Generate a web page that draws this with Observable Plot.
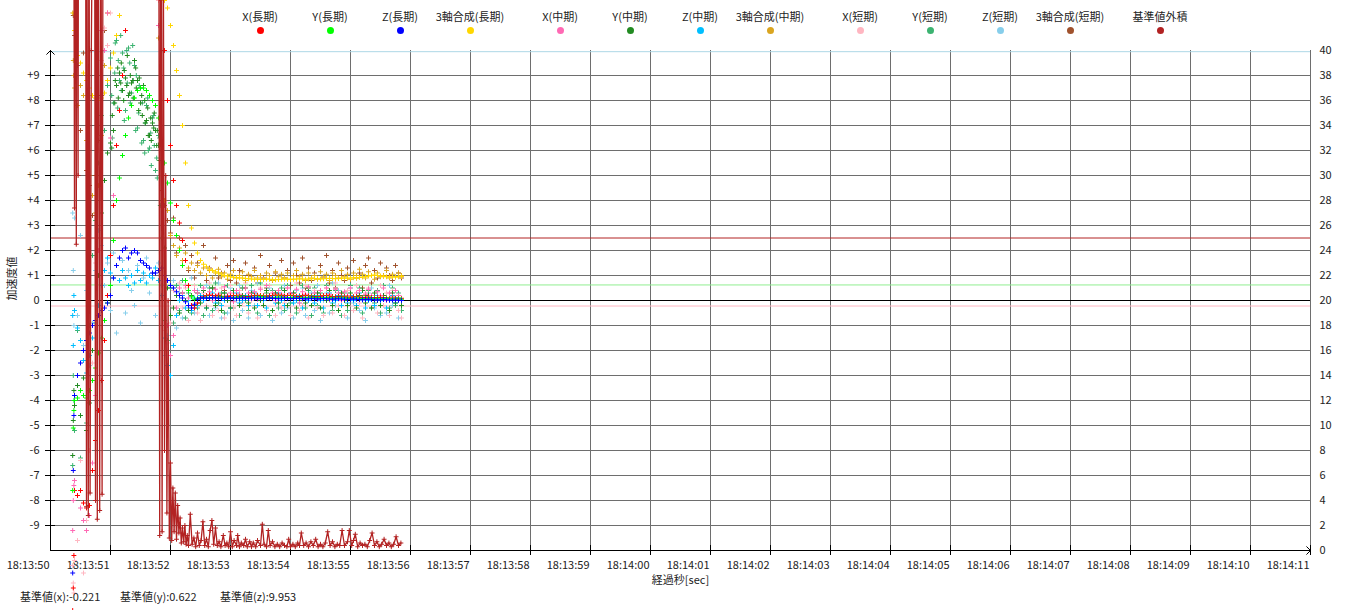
<!DOCTYPE html>
<html>
<head>
<meta charset="utf-8">
<script src="https://cdn.jsdelivr.net/npm/d3@7"></script>
<script src="https://cdn.jsdelivr.net/npm/@observablehq/plot@0.6"></script>
<style>
  body { margin: 0; background: #fff; font-family: "Noto Sans CJK JP", "Noto Sans", sans-serif; }
  #wrap { position: relative; width: 1350px; height: 610px; overflow: hidden; }
  #legend { position: absolute; left: 225px; top: 9px; display: flex; pointer-events: none; }
  .item { width: 70px; font-size: 11px; color: #222; }
  .item .lbl { display: flex; justify-content: center; white-space: nowrap; line-height: 14px; height: 14px; }
  .item .dot { width: 7px; height: 7px; border-radius: 50%; margin: 4px auto 0; }
  .gap { width: 20px; }
  #footer { position: absolute; left: 20px; top: 589px; font-size: 11px; line-height: 14px; color: #222; white-space: nowrap; }
  #footer span { display: inline-block; width: 100px; }
  #warn { position: absolute; left: 600px; top: 400px; color: red; font-size: 12px; }
</style>
</head>
<body>
<div id="wrap"></div>
<script>
// ---------------- data ----------------
// seconds after 18:13:50
const timeSec = [0.37,0.38,0.39,
  0.40,0.45,0.50,0.55,0.60,0.65,0.70,0.75,0.80,0.85,
  0.90,0.95,1.00,1.05,1.10,1.15,1.20,1.25,1.30,1.35,
  1.40,1.45,1.50,1.55,1.60,1.65,1.70,1.75,1.80,1.85,
  1.90,1.95,2.00,2.05,2.10,2.15,2.20,2.25,2.30,2.35,
  2.40,2.45,2.50,2.55,2.60,2.65,2.70,2.75,2.80,2.85,
  2.90,2.95,3.00,3.05,3.10,3.15,3.20,3.25,3.30,3.35,
  3.40,3.45,3.50,3.55,3.60,3.65,3.70,3.75,3.80,3.85,
  3.90,3.95,4.00,4.05,4.10,4.15,4.20,4.25,4.30,4.35,
  4.40,4.45,4.50,4.55,4.60,4.65,4.70,4.75,4.80,4.85,
  4.90,4.95,5.00,5.05,5.10,5.15,5.20,5.25,5.30,5.35,
  5.40,5.45,5.50,5.55,5.60,5.65,5.70,5.75,5.80,5.85];

const xLong = [-12.4,-11.5,-10.2,
  -7.6,-7.8,-7.6,-8.1,-8.3,-8.2,-6.8,-5.6,-4.4,-3.2,
  -1.6,0.2,1.8,3.8,6.2,7.6,9.0,10.8,12.5,13.5,
  14,14.5,15,15,15,14.5,14,13.5,13,12,
  10.0,8.0,6.2,4.8,3.8,3.1,2.4,1.6,0.6,-0.2,
  -0.3,-0.1,0.1,0.15,0.2,0.22,0.2,0.18,0.2,0.17,
  0.15,0.16,0.18,0.2,0.19,0.17,0.15,0.14,0.16,0.18,
  0.2,0.21,0.2,0.18,0.17,0.19,0.2,0.22,0.21,0.19,
  0.18,0.2,0.21,0.19,0.17,0.16,0.18,0.2,0.19,0.18,
  0.16,0.15,0.17,0.19,0.2,0.18,0.16,0.15,0.16,0.17,
  0.15,0.14,0.13,0.15,0.16,0.14,0.12,0.13,0.14,0.12,
  0.11,0.12,0.13,0.11,0.1,0.09,0.1,0.09,0.08,0.07];

const yLong = [-7.6,-5.1,-4.4,
  -4.0,-3.9,-3.6,-3.8,-3.9,-3.6,-3.2,-2.7,-2.1,-1.5,
  -0.8,-0.1,0.6,2.4,4.0,4.9,5.8,6.6,7.3,7.8,
  8.1,8.4,8.5,8.5,8.4,8.2,8.0,7.8,7.3,6.4,
  5.5,4.7,3.9,3.2,2.6,2.0,1.4,0.8,0.4,0.15,
  0.05,0.08,0.1,0.12,0.13,0.12,0.11,0.12,0.13,0.14,
  0.13,0.12,0.11,0.12,0.13,0.14,0.13,0.12,0.11,0.12,
  0.13,0.14,0.15,0.14,0.13,0.12,0.12,0.13,0.14,0.13,
  0.12,0.11,0.12,0.13,0.12,0.11,0.1,0.11,0.12,0.13,
  0.12,0.11,0.1,0.11,0.12,0.11,0.1,0.09,0.1,0.11,
  0.1,0.09,0.08,0.09,0.1,0.09,0.08,0.07,0.08,0.09,
  0.08,0.07,0.06,0.07,0.08,0.07,0.06,0.05,0.06,0.05];

const zLong = [-10.9,-6.8,-4.6,
  -3.8,-3.0,-2.5,-2.0,-1.6,-1.3,-1.0,-0.8,-0.6,-0.4,
  -0.3,-0.1,0.2,0.9,1.4,1.7,2.0,2.1,1.7,1.9,
  2.0,1.9,1.6,1.5,1.4,1.3,1.1,1.1,1.2,1.3,
  1.0,0.8,0.6,0.5,0.35,0.2,0.1,-0.05,-0.2,-0.3,
  -0.15,0.05,0.1,0.1,0.09,0.1,0.11,0.1,0.09,0.08,
  0.09,0.1,0.1,0.09,0.08,0.09,0.1,0.09,0.08,0.09,
  0.1,0.09,0.08,0.08,0.09,0.1,0.09,0.08,0.07,0.08,
  0.09,0.08,0.07,0.08,0.09,0.08,0.07,0.06,0.07,0.08,
  0.07,0.06,0.07,0.08,0.07,0.06,0.05,0.06,0.07,0.06,
  0.05,0.04,0.05,0.06,0.05,0.04,0.03,0.04,0.05,0.04,
  0.03,0.02,0.03,0.04,0.03,0.02,0.01,0.02,0.01,0.0];

const sumLong = [14,12.5,11.5,
  10.8,9.8,9.5,9.1,8.8,8.5,8.2,8.1,8.0,8.1,
  8.3,8.8,9.3,9.9,10.6,11.4,12.2,13,13.5,14,
  14.5,15,15,15,15,15,14.5,14,13.5,13,
  12.0,11.7,11.0,10.2,9.2,8.2,7.0,5.5,3.8,2.9,
  2.3,1.9,1.6,1.45,1.35,1.25,1.2,1.15,1.1,1.05,
  1.0,0.98,0.95,0.93,0.92,0.9,0.9,0.88,0.87,0.86,
  0.85,0.85,0.84,0.85,0.86,0.85,0.84,0.83,0.84,0.85,
  0.86,0.85,0.84,0.85,0.86,0.87,0.86,0.85,0.86,0.87,
  0.88,0.87,0.86,0.87,0.88,0.89,0.88,0.87,0.88,0.89,
  0.9,0.89,0.9,0.91,0.9,0.92,0.94,0.96,0.98,1.0,
  1.02,1.0,0.98,0.96,0.95,0.94,0.95,0.94,0.95,0.96];

const xMid = [-9.2,-8.0,-7.4,
  -7.2,-7.8,-8.3,-8.8,-9.2,-8.6,-6.5,-3.8,2.0,10.8,
  10.0,11.5,6.5,4.2,12.5,13,13.5,14,14,14,
  14,14,14,14,14,14,13.5,13,11,6.5,
  2.0,-1.0,-2.2,-1.4,-0.3,0.5,0.3,0.6,0.1,-0.2,
  0.4,0.3,0.1,0.5,0.2,0.35,0.0,0.45,0.25,0.15,
  0.55,0.2,0.3,-0.05,0.4,0.25,0.1,0.5,0.3,0.2,
  0.35,0.05,0.45,0.2,0.6,0.15,0.3,0.0,0.4,0.25,
  0.1,0.5,0.3,0.2,0.45,-0.1,0.35,0.25,0.55,0.15,
  0.3,0.05,0.4,0.2,0.5,0.25,0.1,0.45,0.3,0.0,
  0.35,0.2,0.5,0.15,0.3,0.4,0.05,0.25,0.45,0.2,
  0.1,0.35,0.2,0.5,0.0,0.3,0.15,0.4,0.2,0.1];

const yMid = [-6.2,-4.8,-3.6,
  -4.2,-3.4,-4.6,-3.1,-5.2,-4.1,-2.0,-0.8,1.0,3.5,
  4.8,5.9,6.3,6.8,8.6,9.1,8.4,8.9,8.2,8.7,
  9.6,8.8,7.9,8.6,7.2,6.6,7.1,6.8,6.2,4.0,
  2.1,0.5,-0.6,-0.3,0.2,-0.5,0.3,0.0,-0.4,0.2,
  -0.2,0.3,-0.1,0.4,-0.3,0.1,0.5,-0.2,0.2,-0.4,
  0.3,0.0,-0.3,0.4,0.1,-0.2,0.2,0.5,-0.1,0.3,
  -0.3,0.2,0.0,-0.2,0.4,0.1,-0.4,0.3,-0.1,0.2,
  0.4,-0.2,0.1,0.3,-0.3,0.0,0.2,-0.1,0.5,-0.2,
  0.1,0.3,-0.3,0.2,0.0,0.4,-0.2,0.1,-0.4,0.3,
  0.0,-0.2,0.3,0.1,-0.3,0.2,0.4,-0.1,0.2,-0.3,
  0.3,0.0,-0.2,0.2,0.1,-0.4,0.3,-0.1,0.1,-0.2];

const zMid = [-0.6,-1.8,0.2,
  -0.4,-1.1,-1.6,-2.4,-2.9,-2.2,-1.5,-0.9,-0.2,0.6,
  1.2,1.7,1.1,0.9,1.4,0.8,1.2,0.9,0.6,1.0,
  0.7,1.2,0.8,1.1,0.7,1.0,0.9,1.3,0.8,0.2,
  -1.5,-2.6,-3.0,-1.8,-0.6,0.0,0.2,-0.3,0.0,-0.4,
  0.1,-0.2,0.2,0.0,-0.3,0.1,0.3,-0.1,0.2,-0.2,
  0.0,0.2,-0.3,0.1,0.3,-0.1,0.0,0.2,-0.2,0.1,
  0.3,-0.2,0.1,0.0,-0.3,0.2,0.1,-0.1,0.3,0.0,
  -0.2,0.1,0.3,-0.1,0.0,0.2,-0.3,0.1,0.0,0.2,
  -0.1,0.2,0.0,-0.3,0.1,0.3,-0.1,0.0,0.2,-0.2,
  0.1,-0.1,0.2,0.0,-0.2,0.3,0.1,-0.3,0.0,0.1,
  -0.2,0.2,0.0,0.1,-0.3,0.0,0.2,-0.1,0.1,-0.2];

const sumMid = [11.5,9.6,9.0,
  8.5,7.8,8.6,8.2,6.4,5.0,4.2,3.5,4.6,6.6,
  9.4,11.5,13,13.5,14,14,14,14,14,14,
  14,14,14,14,14,14,13.5,13,10.5,8.0,
  4.0,3.6,2.6,2.2,1.8,2.1,1.6,1.9,1.3,1.5,
  1.2,1.4,1.1,1.3,1.0,1.2,0.9,1.1,1.25,0.95,
  1.1,0.85,1.05,1.2,0.9,1.0,1.15,0.8,1.05,0.95,
  1.2,0.9,1.0,0.85,1.1,1.0,0.8,1.15,0.95,1.05,
  0.9,1.1,0.85,1.0,1.2,0.95,1.05,0.8,1.1,0.9,
  1.0,0.85,1.15,0.95,1.05,0.8,1.1,1.0,0.9,1.2,
  0.95,1.05,0.85,1.1,1.0,1.25,1.05,0.9,1.15,1.0,
  0.85,1.1,0.95,1.0,1.2,0.9,1.05,0.95,1.1,1.0];

const xShort = [-10.6,-11.3,-11.7,
  -10.4,-9.6,-6.4,-10.9,-8.8,-6.0,-2.5,1.5,6.0,9.6,
  10.9,10.2,11.5,13,13,13,13,13,13,13,
  13,13,13,13,13,13,13,13,12.0,5.0,
  -1.2,-1.7,-0.9,0.4,-0.6,0.7,-0.3,0.5,-0.8,0.2,
  0.6,-0.5,-0.8,0.3,-0.2,0.7,-0.6,0.1,-0.4,0.5,
  -0.7,0.2,0.6,-0.3,-0.6,0.4,-0.1,0.7,-0.5,0.0,
  0.3,-0.7,0.5,-0.2,-0.4,0.6,0.1,-0.6,0.4,-0.3,
  -0.1,0.5,-0.6,0.3,0.7,-0.4,-0.2,0.6,-0.7,0.2,
  0.4,-0.3,0.1,-0.6,0.5,0.0,-0.5,0.7,-0.2,0.3,
  -0.6,0.4,0.2,-0.4,0.6,-0.1,-0.7,0.3,0.5,-0.3,
  0.1,-0.5,0.6,-0.2,0.3,-0.6,0.4,0.0,-0.4,-0.7];

const yShort = [-6.6,-3.0,-4.0,
  -5.2,-1.2,-6.3,-2.4,-4.9,-1.0,1.8,3.2,5.5,7.4,
  6.8,8.6,9.7,7.9,10.4,8.8,9.9,7.6,10.1,8.3,
  9.4,6.9,8.5,6.4,7.8,6.1,7.3,5.2,6.6,2.5,
  -0.8,-1.6,0.5,-0.9,0.6,-0.4,0.8,-0.7,0.3,-0.5,
  0.4,-0.3,0.6,-0.6,0.2,0.5,-0.4,0.7,-0.1,0.3,
  -0.5,0.6,0.1,-0.3,0.4,-0.6,0.5,0.0,-0.4,0.6,
  0.2,-0.5,0.7,-0.2,0.3,-0.6,0.4,0.1,-0.3,0.5,
  -0.4,0.6,-0.1,0.3,-0.5,0.2,0.6,-0.3,0.4,-0.6,
  0.5,-0.2,0.3,-0.5,0.6,0.0,-0.4,0.4,0.2,-0.6,
  0.3,-0.4,0.6,0.1,-0.2,0.5,-0.5,0.2,0.4,-0.3,
  -0.1,0.4,-0.5,0.6,0.0,-0.3,0.5,-0.2,0.3,-0.4];

const zShort = [3.5,1.2,-1.0,
  3.3,-0.6,2.6,-1.8,0.4,-2.6,-0.9,1.2,2.8,2.2,
  0.6,1.5,-0.4,1.9,-1.3,0.8,1.6,-0.5,1.2,0.4,
  -0.2,1.4,-0.9,0.9,1.7,0.3,1.1,-0.6,1.5,0.6,
  -2.2,-1.4,-0.6,0.8,-1.1,0.3,-0.7,0.6,-0.2,0.9,
  -0.5,0.4,-0.8,0.2,0.6,-0.6,0.1,-0.3,0.7,-0.7,
  0.3,-0.5,0.5,-0.8,0.0,0.6,-0.4,0.2,-0.7,0.4,
  -0.2,0.7,-0.6,0.1,-0.4,0.5,-0.8,0.3,0.0,-0.5,
  0.6,-0.3,0.2,-0.7,0.4,-0.1,0.5,-0.6,0.1,0.3,
  -0.4,0.6,-0.8,0.0,0.3,-0.5,0.7,-0.2,0.4,-0.6,
  0.2,-0.7,0.5,-0.1,0.6,-0.4,0.0,-0.8,0.3,0.5,
  -0.3,0.4,-0.6,0.2,-0.5,0.6,-0.2,0.1,-0.7,-0.4];

const sumShort = [13,11.4,9.0,
  10.6,9.4,6.8,9.9,5.2,4.6,3.4,5.0,6.4,8.2,
  10.8,12.5,13,13,13,13,13,13,13,13,
  13,13,13,13,13,13,13,13,11.0,4.4,
  3.8,3.2,2.7,3.3,1.9,2.5,1.6,2.2,1.2,1.8,
  0.9,1.5,0.6,2.2,0.8,1.3,0.5,1.7,0.9,1.1,
  0.4,1.4,0.8,1.6,0.7,1.2,0.5,1.5,1.0,0.6,
  1.3,0.7,1.8,0.9,0.5,1.4,0.8,1.1,0.4,1.6,
  0.9,1.2,0.6,1.5,1.0,0.7,1.7,0.5,1.3,0.8,
  1.1,0.6,1.4,0.9,1.8,0.7,1.2,0.5,1.5,1.0,
  0.8,1.3,0.6,1.6,0.9,1.1,0.5,1.4,1.7,0.7,
  1.2,0.9,1.5,0.6,1.3,1.0,0.8,1.4,1.1,0.9];

// extra samples inside the dense Y(中期)/Y(短期) cloud, 18:13:51.0 – 18:13:51.85
const cloudSec = [1.02,1.03,1.07,1.08,1.12,1.13,1.17,1.18,1.22,1.23,1.27,1.28,1.32,1.33,1.37,1.38,1.42,
  1.43,1.47,1.48,1.52,1.53,1.57,1.58,1.62,1.63,1.67,1.68,1.72,1.73,1.77,1.78,1.82,1.83];
const yMidCloud = [6.1,7.4,7.9,8.8,9.3,8.1,8.7,9.5,8.0,9.2,8.6,9.8,8.3,9.0,8.8,8.1,9.3,
  8.5,7.6,8.9,8.2,7.4,8.0,7.1,7.7,6.6,7.3,6.4,6.9,7.5,6.2,6.8,5.6,6.3];
const yShortCloud = [8.2,6.5,9.1,10.3,7.7,9.6,10.6,8.4,9.3,7.2,10.0,8.7,9.5,7.9,10.2,8.8,6.8,
  9.0,7.5,8.6,6.3,7.9,5.9,7.1,8.1,6.0,6.7,5.4,7.4,6.2,5.7,4.9,6.5,3.8];

// 基準値外積: [seconds after 18:13:50, value on right axis (0–40)]
const outerProduct = [[0.38,70],[0.40,27.4],[0.41,70],[0.43,24.5],[0.44,70],[0.46,30],[0.47,70],
  [0.58,70],[0.60,3.5],[0.61,45],[0.63,2.8],[0.64,60],[0.66,4.6],[0.68,40],[0.73,70],[0.75,4.0],
  [0.76,70],[0.78,2.5],[0.79,70],[0.82,3.2],[0.84,60],[0.86,4.5],[0.88,70],[1.80,70],[1.82,1.2],
  [1.84,70],[1.86,1.5],[1.88,50],[1.90,8.0],[1.92,30],[1.94,3.0],[1.96,20],[1.98,1.0],[2.00,7.0],
  [2.02,0.8],[2.04,5.0],[2.06,1.5],[2.08,4.6],[2.10,0.9],[2.12,3.6],[2.14,1.4],[2.16,2.6],[2.18,0.6],
  [2.20,1.8],[2.22,0.7],[2.24,2.0],[2.26,0.5],[2.28,1.2],[2.30,0.4],[2.33,2.9],[2.36,0.5],[2.39,1.0],
  [2.42,0.3],[2.45,1.4],[2.48,0.4],[2.51,0.8],[2.54,2.3],[2.57,0.4],[2.60,0.9],[2.63,0.3],[2.66,1.6],
  [2.69,2.4],[2.72,0.5],[2.75,1.8],[2.78,0.4],[2.81,0.7],[2.84,0.3],[2.88,1.2],[2.91,0.4],[2.94,0.6],
  [2.97,0.3],[3.00,1.5],[3.03,0.3],[3.06,0.8],[3.10,0.4],[3.12,1.2],[3.15,0.3],[3.18,0.6],[3.22,0.4],
  [3.25,0.9],[3.28,0.3],[3.32,0.7],[3.35,0.3],[3.38,0.6],[3.42,0.3],[3.45,0.8],[3.50,0.4],[3.53,2.1],
  [3.56,0.5],[3.60,0.3],[3.63,1.6],[3.66,0.4],[3.70,0.7],[3.74,0.3],[3.78,0.5],[3.82,0.3],[3.86,0.6],
  [3.90,0.4],[3.94,0.3],[3.97,0.9],[4.00,0.3],[4.04,0.5],[4.08,0.3],[4.12,0.6],[4.15,0.4],[4.18,1.4],
  [4.22,0.4],[4.26,0.6],[4.30,0.3],[4.34,0.7],[4.38,0.4],[4.42,0.9],[4.46,0.3],[4.50,0.5],[4.54,0.3],
  [4.58,0.6],[4.62,1.5],[4.66,0.4],[4.70,0.7],[4.74,0.3],[4.78,0.5],[4.82,0.4],[4.86,1.6],[4.90,0.4],
  [4.95,0.7],[4.98,1.6],[5.02,0.4],[5.05,0.8],[5.08,1.3],[5.12,0.3],[5.16,0.6],[5.20,0.4],[5.24,0.5],
  [5.28,0.3],[5.32,0.8],[5.36,1.4],[5.40,0.4],[5.44,0.7],[5.48,0.3],[5.52,0.5],[5.56,0.9],[5.60,0.4],
  [5.64,0.6],[5.68,0.3],[5.72,0.5],[5.76,1.1],[5.80,0.4],[5.84,0.6]];

const seriesNames = ["X(長期)","Y(長期)","Z(長期)","3軸合成(長期)","X(中期)","Y(中期)","Z(中期)","3軸合成(中期)","X(短期)","Y(短期)","Z(短期)","3軸合成(短期)","基準値外積"];
const seriesColors = ["#ff0000","#00ff00","#0000ff","#ffd700","#ff69b4","#228b22","#00bfff","#daa520","#ffb6c1","#3cb371","#87ceeb","#a0522d","#b22222"];
const seriesValues = [xLong, yLong, zLong, sumLong, xMid, yMid, zMid, sumMid, xShort, yShort, zShort, sumShort];

const baseNames = ["基準値(x)","基準値(y)","基準値(z)"];
const baseValues = [-0.221, 0.622, 9.953];
const baseColors = ["#ffb6c1","#90ee90","#add8e6"];
const outerThreshold = 25; // right-axis units

const xTickValues = [0,1,2,3,4,5,6,7,8,9,10,11,12,13,14,15,16,17,18,19,20,21];
const xTickLabels = ["18:13:50","18:13:51","18:13:52","18:13:53","18:13:54","18:13:55","18:13:56","18:13:57","18:13:58","18:13:59","18:14:00","18:14:01","18:14:02","18:14:03","18:14:04","18:14:05","18:14:06","18:14:07","18:14:08","18:14:09","18:14:10","18:14:11"];
const yTickValues = [9,8,7,6,5,4,3,2,1,0,-1,-2,-3,-4,-5,-6,-7,-8,-9];
const yTickLabels = ["+9","+8","+7","+6","+5","+4","+3","+2","+1","0","-1","-2","-3","-4","-5","-6","-7","-8","-9"];
const rightTickValues = [0,2,4,6,8,10,12,14,16,18,20,22,24,26,28,30,32,34,36,38,40];
const xLabel = "経過秒[sec]";
const yLabel = "加速度値";

// ---------------- chart ----------------
const toLeft = r => (r - 20) / 2; // right axis (0..40) -> left axis (-10..+10)
const grid = "#6e6e6e";
const font = '"Noto Sans CJK JP", "Noto Sans", sans-serif';

const marks = [
  Plot.ruleY(yTickValues.filter(v => v !== 0), {stroke: grid}),
  Plot.ruleX(xTickValues.slice(1), {stroke: grid}),
  Plot.ruleY([baseValues[0]], {stroke: baseColors[0]}),
  Plot.ruleY([baseValues[1]], {stroke: baseColors[1]}),
  Plot.ruleY([baseValues[2]], {stroke: baseColors[2]}),
  Plot.ruleY([toLeft(outerThreshold)], {stroke: "#b22222"}),
  Plot.ruleY([0], {stroke: "black"}),
  // axes
  Plot.arrow([0], {x1: d => d, x2: d => d, y1: () => -10, y2: () => 10, stroke: "black", strokeWidth: 1, headLength: 8, headAngle: 90}),
  Plot.arrow([-10], {x1: () => 0, x2: () => 21, y1: d => d, y2: d => d, stroke: "black", strokeWidth: 1, headLength: 8, headAngle: 90}),
  Plot.ruleY(yTickValues, {x1: () => 0, x2: () => 0, insetLeft: -5, insetRight: -5, stroke: "black"}),
  Plot.ruleX(xTickValues.slice(1), {y1: () => -10, y2: () => -10, insetTop: -5, insetBottom: -5, stroke: "black"}),
  Plot.text(yTickValues, {x: () => 0, y: d => d, text: (d, i) => yTickLabels[i], textAnchor: "end", dx: -11}),
  Plot.text(rightTickValues, {x: () => 21, y: d => toLeft(d), text: d => String(d), textAnchor: "start", dx: 9}),
  Plot.text(xTickValues, {x: d => d, y: () => -10, text: (d, i) => xTickLabels[i], textAnchor: "end", dx: -1, dy: 15}),
  Plot.text([xLabel], {frameAnchor: "bottom", dy: 33}),
  Plot.text([yLabel], {frameAnchor: "left", dx: -38, rotate: -90})
];

const plus = (data, x, y, color) => Plot.dot(data, {x, y, symbol: "plus", r: 1.7, stroke: color, strokeWidth: 1});

// draw short-term first, long-term last
const order = [11, 10, 9, 8, 7, 6, 5, 4, 0, 1, 2, 3];
for (const k of order) {
  marks.push(plus(seriesValues[k], (d, i) => timeSec[i], d => d, seriesColors[k]));
  if (k === 9) marks.push(plus(yShortCloud, (d, i) => cloudSec[i], d => d, seriesColors[9]));
  if (k === 5) marks.push(plus(yMidCloud, (d, i) => cloudSec[i], d => d, seriesColors[5]));
}
marks.push(Plot.line(outerProduct, {x: d => d[0], y: d => toLeft(d[1]), stroke: seriesColors[12], strokeWidth: 1.3}));
marks.push(plus(outerProduct, d => d[0], d => toLeft(d[1]), seriesColors[12]));

const chart = Plot.plot({
  width: 1350, height: 610,
  marginLeft: 50, marginRight: 40, marginTop: 50, marginBottom: 60,
  x: {domain: [0, 21], axis: null},
  y: {domain: [-10, 10], axis: null},
  style: {fontFamily: font, fontSize: "11px", color: "#222", background: "white"},
  marks
});
const wrap = document.getElementById("wrap");
wrap.appendChild(chart);

// legend
const legend = document.createElement("div");
legend.id = "legend";
seriesNames.forEach((name, i) => {
  if (i === 4 || i === 8 || i === 12) {
    const g = document.createElement("div"); g.className = "gap"; legend.appendChild(g);
  }
  const item = document.createElement("div"); item.className = "item";
  const lbl = document.createElement("div"); lbl.className = "lbl"; lbl.textContent = name;
  const dot = document.createElement("div"); dot.className = "dot"; dot.style.background = seriesColors[i];
  item.appendChild(lbl); item.appendChild(dot); legend.appendChild(item);
});
wrap.appendChild(legend);

// footer
const footer = document.createElement("div");
footer.id = "footer";
baseNames.forEach((n, i) => {
  const s = document.createElement("span"); s.textContent = `${n}:${baseValues[i]}`; footer.appendChild(s);
});
wrap.appendChild(footer);

// sanity check on lengths
const bad = seriesValues.map((v, i) => [seriesNames[i], v.length]).filter(([, n]) => n !== timeSec.length);
if (yMidCloud.length !== cloudSec.length || yShortCloud.length !== cloudSec.length) bad.push(["cloud", yMidCloud.length + "/" + yShortCloud.length]);
if (bad.length) {
  const w = document.createElement("div"); w.id = "warn";
  w.textContent = "LEN " + timeSec.length + ": " + bad.map(b => b.join("=")).join(", ");
  wrap.appendChild(w);
}
</script>
</body>
</html>
